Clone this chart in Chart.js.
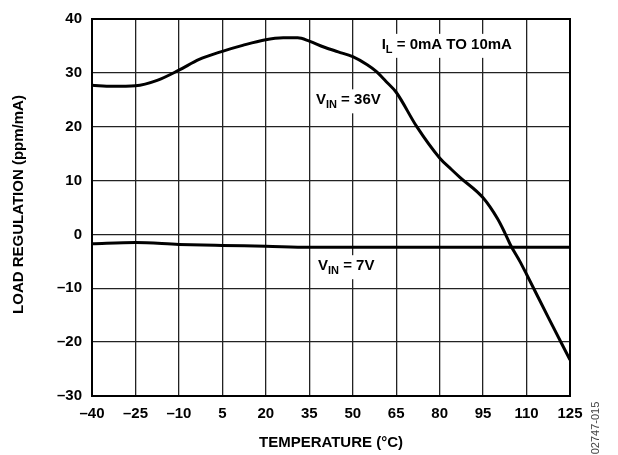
<!DOCTYPE html>
<html>
<head>
<meta charset="utf-8">
<script src="https://cdn.jsdelivr.net/npm/chart.js@4.4.0/dist/chart.umd.min.js"></script>
<style>
  html, body { margin: 0; padding: 0; background: #fff; }
  #wrap { width: 618px; height: 455px; position: relative; }
</style>
</head>
<body>
<div id="wrap"><canvas id="loadReg"></canvas></div>
<script>
// ===== DATA =====
const temps36 = [-40, -33, -25, -17.5, -10, -3, 5, 12, 19.5, 26, 31, 35, 40, 45, 50, 55, 58, 61.5, 65, 72, 80, 84, 87, 95, 100, 102.5, 104.5, 107.7, 110, 117.5, 125];
const vin36 = [27.7, 27.5, 27.6, 28.6, 30.5, 32.5, 34.0, 35.1, 36.1, 36.5, 36.5, 35.9, 34.8, 33.9, 33.0, 31.5, 30.3, 28.4, 26.4, 20.1, 14.2, 12.1, 10.6, 6.8, 2.9, 0.3, -2.0, -5.0, -7.4, -15.4, -23.3];
const temps7 = [-40, -25, -10, 5, 20, 35, 50, 65, 80, 95, 110, 125];
const vin7 = [-1.75, -1.5, -1.85, -2.05, -2.2, -2.4, -2.4, -2.4, -2.4, -2.4, -2.4, -2.4];
const xTicks = [-40, -25, -10, 5, 20, 35, 50, 65, 80, 95, 110, 125];
const yTicks = [-30, -20, -10, 0, 10, 20, 30, 40];

const FONT = '"Liberation Sans", Arial, Helvetica, sans-serif';
const toPts = (xs, ys) => xs.map((x, i) => ({ x: x, y: ys[i] }));
const dash = v => String(v).replace("-", "\u2013");

// labels inside the plot, anchored in data units: [x, y, main, sub, rest]
const notes = [
  [60, 35.2, "I", "L", " = 0mA TO 10mA"],
  [37.3, 24.9, "V", "IN", " = 36V"],
  [38, -5.9, "V", "IN", " = 7V"]
];

// ===== EXTRA DRAWING: frame, titles, notes =====
const decor = {
  id: "decor",
  afterDraw(chart) {
    const c = chart.ctx;
    const a = chart.chartArea;
    const xs = chart.scales.x, ys = chart.scales.y;
    c.save();

    // plot frame
    c.strokeStyle = "#000";
    c.lineWidth = 2;
    c.strokeRect(a.left, a.top, a.right - a.left, a.bottom - a.top);

    // axis titles
    c.fillStyle = "#000";
    c.font = "bold 15px " + FONT;
    c.textAlign = "center";
    c.textBaseline = "middle";
    c.fillText("TEMPERATURE (\u00B0C)", (a.left + a.right) / 2, 443);
    c.save();
    c.translate(19, (a.top + a.bottom) / 2 - 3);
    c.rotate(-Math.PI / 2);
    c.fillText("LOAD REGULATION (ppm/mA)", 0, 0);
    c.restore();

    // figure code
    c.save();
    c.translate(596, 428);
    c.rotate(-Math.PI / 2);
    c.font = "11px " + FONT;
    c.fillStyle = "#444";
    c.fillText("02747-015", 0, 0);
    c.restore();

    // notes with white boxes
    c.textAlign = "left";
    c.textBaseline = "middle";
    notes.forEach(n => {
      const px = xs.getPixelForValue(n[0]);
      const py = ys.getPixelForValue(n[1]);
      c.font = "bold 15px " + FONT;
      const w1 = c.measureText(n[2]).width;
      const w3 = c.measureText(n[4]).width;
      c.font = "bold 11px " + FONT;
      const w2 = c.measureText(n[3]).width;
      c.fillStyle = "#fff";
      c.fillRect(px - 3, py - 11, w1 + w2 + w3 + 6, 24);
      c.fillStyle = "#000";
      c.font = "bold 15px " + FONT;
      c.fillText(n[2], px, py);
      c.font = "bold 11px " + FONT;
      c.fillText(n[3], px + w1, py + 5);
      c.font = "bold 15px " + FONT;
      c.fillText(n[4], px + w1 + w2, py);
    });
    c.restore();
  }
};

// ===== CHART =====
const ctx = document.getElementById("loadReg");
new Chart(ctx, {
  type: "line",
  data: {
    datasets: [
      {
        label: "VIN = 36V",
        data: toPts(temps36, vin36),
        borderColor: "#000",
        borderWidth: 3,
        pointRadius: 0,
        cubicInterpolationMode: "monotone",
        fill: false
      },
      {
        label: "VIN = 7V",
        data: toPts(temps7, vin7),
        borderColor: "#000",
        borderWidth: 3,
        pointRadius: 0,
        cubicInterpolationMode: "monotone",
        fill: false
      }
    ]
  },
  options: {
    responsive: true,
    maintainAspectRatio: false,
    animation: false,
    layout: { padding: { left: 0, top: 15, right: 48, bottom: 0 } },
    plugins: { legend: { display: false }, tooltip: { enabled: false } },
    scales: {
      x: {
        type: "linear",
        min: -40,
        max: 125,
        afterBuildTicks: s => { s.ticks = xTicks.map(v => ({ value: v })); },
        afterFit: s => { s.height = 59; },
        ticks: {
          color: "#000",
          padding: 9,
          font: { family: FONT, size: 15, weight: "bold" },
          callback: v => dash(v)
        },
        grid: { color: "#222", lineWidth: 1.3, drawTicks: false },
        border: { display: false }
      },
      y: {
        min: -30,
        max: 40,
        afterBuildTicks: s => { s.ticks = yTicks.map(v => ({ value: v })); },
        afterFit: s => { s.width = 92; },
        ticks: {
          color: "#000",
          padding: 10,
          font: { family: FONT, size: 15, weight: "bold" },
          callback: v => dash(v)
        },
        grid: { color: "#222", lineWidth: 1.3, drawTicks: false },
        border: { display: false }
      }
    }
  },
  plugins: [decor]
});
</script>
</body>
</html>
